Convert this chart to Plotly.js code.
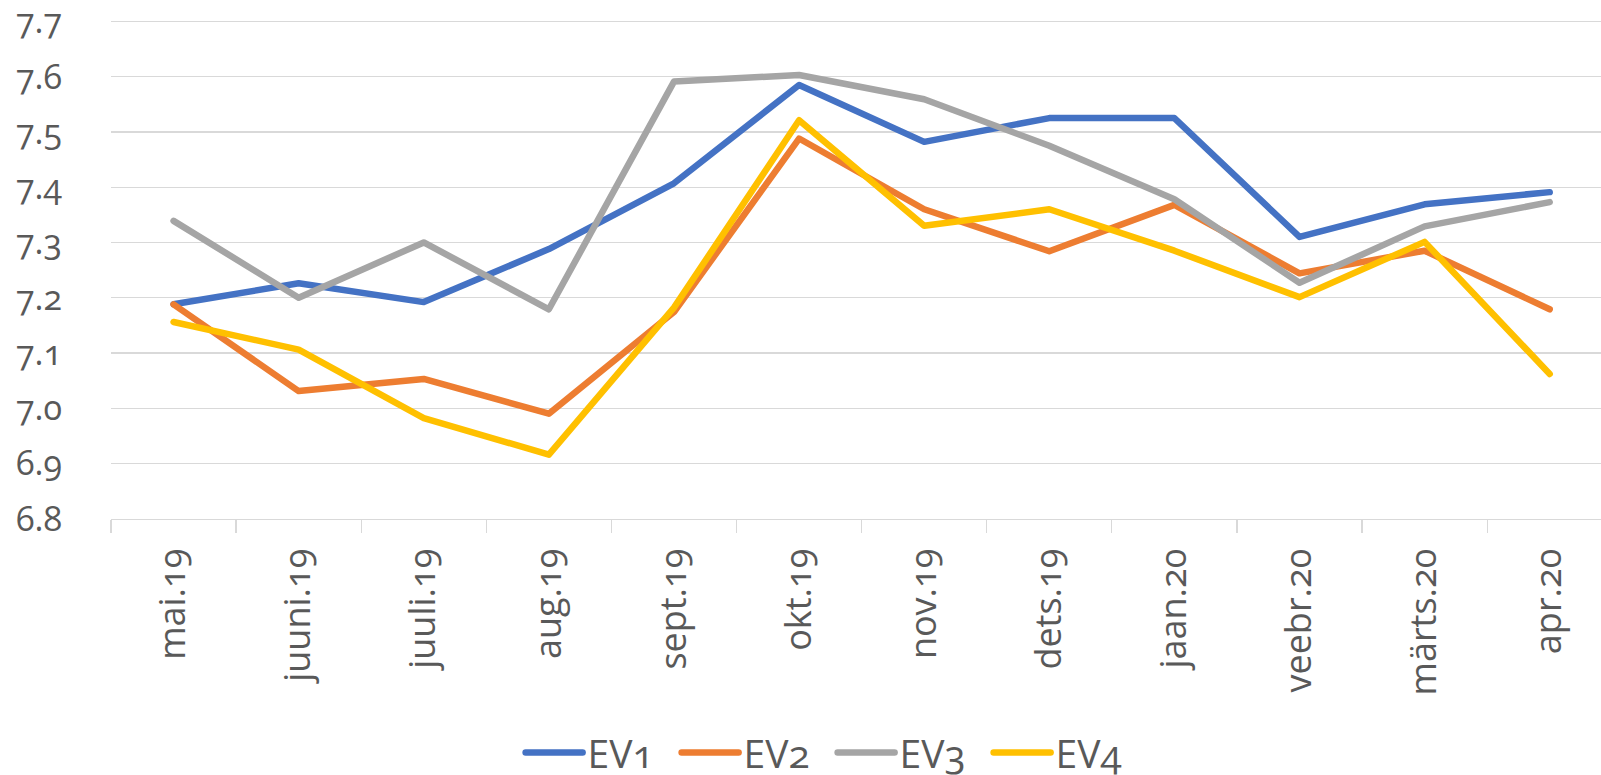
<!DOCTYPE html>
<html>
<head>
<meta charset="utf-8">
<script src="https://cdn.plot.ly/plotly-3.0.1.min.js"></script>
<style>
  html, body { margin: 0; padding: 0; background: #fff; }
  #chart { width: 1601px; height: 775px; }
  .main-svg text { font-feature-settings: "onum" 1; font-variant-numeric: oldstyle-nums; }
  .scatterlayer path.js-line, .legendlines path { stroke-linejoin: round; stroke-linecap: round; }
</style>
</head>
<body>
<div id="chart"></div>
<script>
const months = ["mai.19", "juuni.19", "juuli.19", "aug.19", "sept.19", "okt.19",
                "nov.19", "dets.19", "jaan.20", "veebr.20", "märts.20", "apr.20"];
const ev1 = [7.188, 7.226, 7.192, 7.288, 7.407, 7.585, 7.482, 7.525, 7.525, 7.310, 7.369, 7.391];
const ev2 = [7.188, 7.031, 7.053, 6.990, 7.174, 7.488, 7.360, 7.284, 7.368, 7.244, 7.285, 7.179];
const ev3 = [7.339, 7.200, 7.300, 7.179, 7.591, 7.603, 7.559, 7.475, 7.378, 7.227, 7.329, 7.373];
const ev4 = [7.156, 7.106, 6.982, 6.916, 7.182, 7.521, 7.330, 7.360, 7.285, 7.201, 7.301, 7.062];
const seriesNames = ["EV1", "EV2", "EV3", "EV4"];
const seriesColors = ["#4472C4", "#ED7D31", "#A5A5A5", "#FFC000"];
const yTicks = [6.8, 6.9, 7.0, 7.1, 7.2, 7.3, 7.4, 7.5, 7.6, 7.7];

const allSeries = [ev1, ev2, ev3, ev4];
const traces = allSeries.map((vals, i) => ({
  type: "scatter",
  mode: "lines",
  x: months,
  y: vals,
  name: seriesNames[i],
  line: { color: seriesColors[i], width: 6.5 },
  hoverinfo: "x+y+name"
}));

const font = { family: "Open Sans, Noto Sans, sans-serif", color: "#595959" };

const layout = {
  width: 1601,
  height: 775,
  paper_bgcolor: "#ffffff",
  plot_bgcolor: "#ffffff",
  margin: { l: 111, r: 0, t: 20, b: 256, pad: 0, autoexpand: false },
  showlegend: true,
  legend: {
    orientation: "h",
    x: 0.4843, xanchor: "center",
    y: -0.468, yanchor: "middle",
    font: Object.assign({}, font, { size: 39 }),
    itemwidth: 57,
    entrywidth: 84,
    entrywidthmode: "pixels",
    tracegroupgap: 0,
    bgcolor: "rgba(0,0,0,0)"
  },
  xaxis: {
    type: "category",
    range: [-0.5, 11.41],
    showgrid: false,
    zeroline: false,
    showline: true,
    linecolor: "#D9D9D9",
    linewidth: 1.3,
    ticks: "outside",
    tickson: "boundaries",
    ticklen: 13,
    tickwidth: 1.3,
    tickcolor: "#D9D9D9",
    tickangle: -90,
    ticklabelstandoff: 14,
    tickfont: Object.assign({}, font, { size: 36 }),
    fixedrange: true
  },
  yaxis: {
    range: [6.7995, 7.7025],
    tickmode: "array",
    tickvals: yTicks,
    ticktext: yTicks.map(v => v.toFixed(1)),
    ticklabeloverflow: "allow",
    showgrid: true,
    gridcolor: "#D9D9D9",
    gridwidth: 1.3,
    zeroline: false,
    showline: false,
    ticks: "",
    ticklabelstandoff: 48,
    tickfont: Object.assign({}, font, { size: 34 }),
    fixedrange: true
  }
};

Plotly.newPlot("chart", traces, layout, { displayModeBar: false, staticPlot: true });
</script>
</body>
</html>
